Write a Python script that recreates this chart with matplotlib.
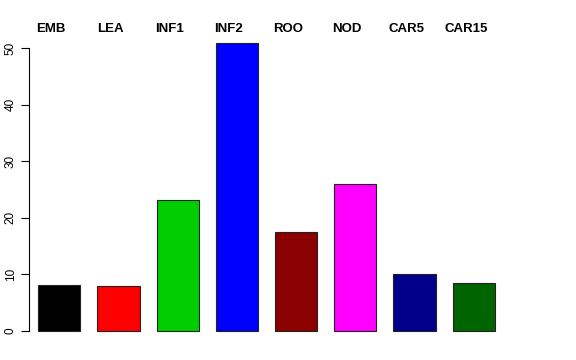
import matplotlib
matplotlib.use("Agg")
import matplotlib.pyplot as plt

# tissue samples and bar heights
SAMPLES = ["EMB", "LEA", "INF1", "INF2", "ROO", "NOD", "CAR5", "CAR15"]
VALUES = [8.2, 8.0, 23.1, 50.9, 17.5, 25.9, 10.1, 8.5]
COLORS = ["black", "red", "#00CD00", "blue", "#8B0000", "magenta", "#00008B", "#006400"]
YTICKS = [0, 10, 20, 30, 40, 50]

plt.rcParams["font.family"] = ["Liberation Sans", "DejaVu Sans"]

W, H = 576, 360
fig = plt.figure(figsize=(W / 100, H / 100), dpi=100)

# plot region in pixels: left edge 29, right 547, top 20, bottom 345
px_l, px_r, px_t, px_b = 29, 547, 20, 345
ax = fig.add_axes([px_l / W, 1 - px_b / H, (px_r - px_l) / W, (px_b - px_t) / H])

pitch = 59.2        # px between bar centres
x0 = 59.3           # px of first bar centre
yscale = 5.66       # px per data unit
y0 = 331            # px of y = 0

ax.set_xlim((px_l - x0) / pitch, (px_r - x0) / pitch)
ax.set_ylim(-(px_b - y0) / yscale, (y0 - px_t) / yscale)

xs = list(range(len(SAMPLES)))
ax.bar(xs, VALUES, width=0.71, color=COLORS, edgecolor="#222222", linewidth=0.8)

label_y = (y0 - 29) / yscale
for x, name in zip(xs, SAMPLES):
    ax.text(x - 0.135, label_y, name, ha="center", va="center",
            fontsize=9.5, fontweight="bold")

for side in ("top", "right", "bottom"):
    ax.spines[side].set_visible(False)
ax.spines["left"].set_bounds(0, 50)
ax.spines["left"].set_linewidth(0.8)
ax.set_xticks([])
ax.set_yticks(YTICKS)
ax.set_yticklabels([str(t) for t in YTICKS], rotation=90, va="center", fontsize=8.5)
ax.tick_params(axis="y", length=5.8, width=0.8, pad=3)

fig.savefig("out.png", dpi=100)
